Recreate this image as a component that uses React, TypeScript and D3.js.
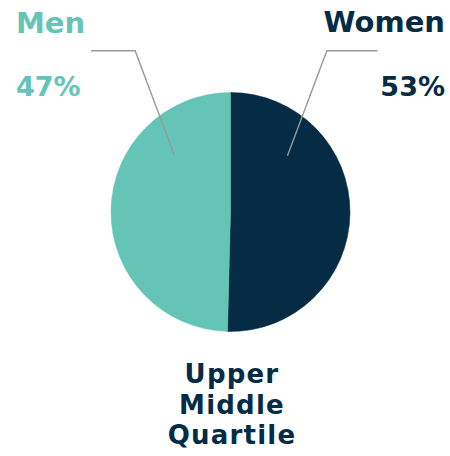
import * as d3 from 'd3'

const genders = ['Women', 'Men']
const shares = [50.4, 49.6]
const shareLabels = ['53%', '47%']
const colors = ['#052b45', '#64c4b6']
const titleLines = ['Upper', 'Middle', 'Quartile']

const W = 450
const H = 456
const cx = 230.5
const cy = 212
const radius = 119.5

export default function App() {
    const pie = d3.pie<number>().sort(null).value(d => d)
    const arcs = pie(shares)
    const arc = d3.arc<d3.PieArcDatum<number>>().innerRadius(0).outerRadius(radius)

    const font = '"DejaVu Sans", sans-serif'
    const elbowY = 50.7 - cy
    const tailLen = [50.6, 44]

    return (
        <svg width={W} height={H} style={{position: 'absolute', left: 0, top: 0}}>
            <g transform={`translate(${cx},${cy})`}>
                {arcs.map((a, i) => (
                    <path key={i} d={arc(a) || ''} fill={colors[i]} stroke={colors[i]} strokeWidth={0.5} />
                ))}
                {arcs.map((a, i) => {
                    // leader starts a quarter of the way into the slice, on the side near the top
                    const ang = i === 0
                        ? a.startAngle + (a.endAngle - a.startAngle) / 4
                        : a.endAngle - (a.endAngle - a.startAngle) / 4
                    const [x0, y0] = d3.pointRadial(ang, radius * 0.67)
                    const side = i === 0 ? 1 : -1
                    const x1 = x0 + side * (y0 - elbowY) * 0.375
                    const x2 = x1 + side * tailLen[i]
                    return (
                        <polyline key={'l' + i}
                            points={`${x0},${y0} ${x1},${elbowY} ${x2},${elbowY}`}
                            fill="none" stroke="#999" strokeWidth={1.4} />
                    )
                })}
            </g>
            <text x={445} y={32} textAnchor="end" fill={colors[0]} fontFamily={font} fontWeight={700} fontSize={29}>{genders[0]}</text>
            <text x={445} y={96} textAnchor="end" fill={colors[0]} fontFamily={font} fontWeight={700} fontSize={27}>{shareLabels[0]}</text>
            <text x={16} y={33} textAnchor="start" fill={colors[1]} fontFamily={font} fontWeight={700} fontSize={29}>{genders[1]}</text>
            <text x={16} y={96} textAnchor="start" fill={colors[1]} fontFamily={font} fontWeight={700} fontSize={27}>{shareLabels[1]}</text>
            {titleLines.map((t, i) => (
                <text key={t} x={232} y={383 + i * 30.5} textAnchor="middle" fill={colors[0]}
                    fontFamily={font} fontWeight={700} fontSize={26} letterSpacing={1.2}>{t}</text>
            ))}
        </svg>
    )
}
